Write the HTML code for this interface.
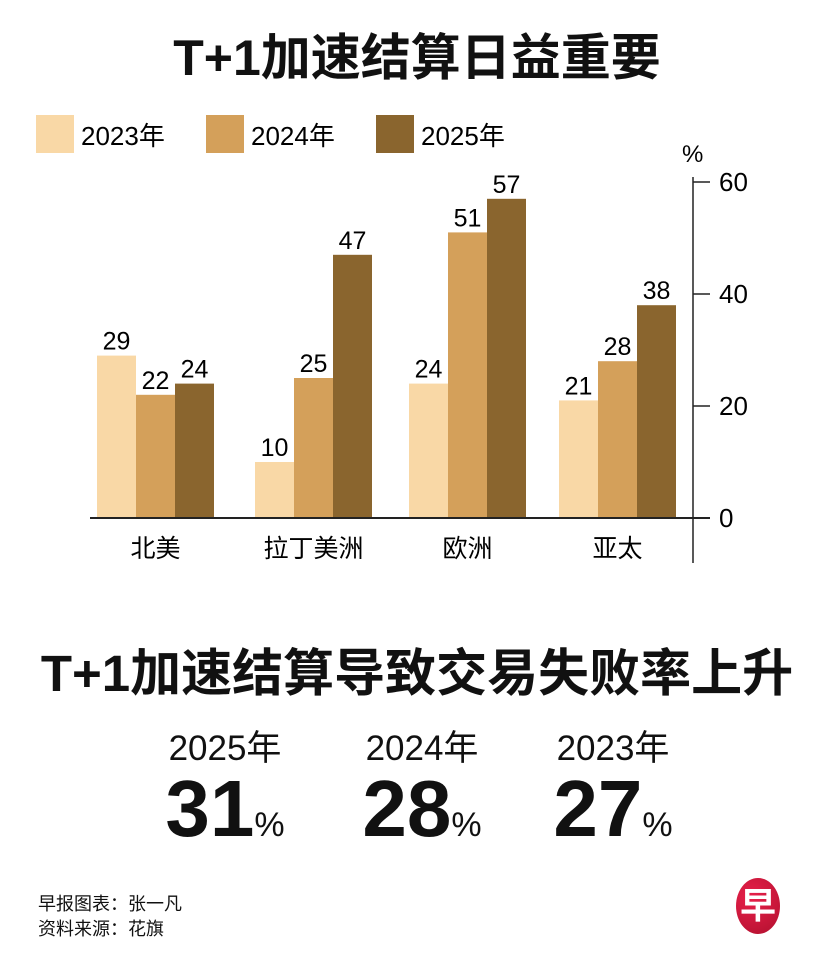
<!DOCTYPE html>
<html><head><meta charset="utf-8"><style>
body{margin:0;width:834px;height:967px;background:#fff;font-family:"Liberation Sans","Noto Sans CJK SC",sans-serif;color:#111;position:relative;overflow:hidden}
.a{position:absolute;white-space:nowrap}
</style></head><body>
<div class="a" style="left:0;width:834px;text-align:center;top:18px;font-size:50px;font-weight:bold">T+1加速结算日益重要</div>
<svg class="a" style="left:0;top:0" width="834" height="600" id="c"></svg>
<div class="a" style="left:0;width:834px;text-align:center;top:632px;font-size:51px;font-weight:bold">T+1加速结算导致交易失败率上升</div>
<div class="a" style="left:155px;top:720px;text-align:center;width:140px"><div style="font-size:35px">2025年</div><div style="margin-top:-8px"><b style="font-size:80px">31</b><span style="font-size:34px">%</span></div></div>
<div class="a" style="left:352px;top:720px;text-align:center;width:140px"><div style="font-size:35px">2024年</div><div style="margin-top:-8px"><b style="font-size:80px">28</b><span style="font-size:34px">%</span></div></div>
<div class="a" style="left:543px;top:720px;text-align:center;width:140px"><div style="font-size:35px">2023年</div><div style="margin-top:-8px"><b style="font-size:80px">27</b><span style="font-size:34px">%</span></div></div>
<div class="a" style="left:38px;top:892px;font-size:18px;line-height:25px">早报图表：张一凡<br>资料来源：花旗</div>
<div class="a" style="left:736px;top:878px;width:44px;height:56px;border-radius:50%;background:radial-gradient(circle at 35% 35%,#e8204a,#b0102e);color:#fff;font-size:36px;font-weight:bold;text-align:center;line-height:56px">早</div>
<script>
const categories=["北美","拉丁美洲","欧洲","亚太"];
const series=["2023年","2024年","2025年"];
const v2023=[29,10,24,21];
const v2024=[22,25,51,28];
const v2025=[24,47,57,38];
const ticks=[0,20,40,60];
const colors=["#f9d8a6","#d4a05a","#8a652e"];
const svg=document.getElementById('c');const NS="http://www.w3.org/2000/svg";
function y(v){return 518-v*5.6;}
function x(i,s){return 97+i*154+(i>0&&i<3?4:0)+s*39;}
function el(t,a,txt){const e=document.createElementNS(NS,t);for(const k in a)e.setAttribute(k,a[k]);if(txt!==undefined)e.textContent=txt;svg.appendChild(e);return e;}
const vals=[v2023,v2024,v2025];
series.forEach((s,j)=>{
 const r=el('rect',{x:36+j*170,y:115,width:38,height:38,fill:colors[j]});
 
 
 const t=el('text',{x:81+j*170,y:145,'font-size':26},s);
 
 
});
categories.forEach((c,i)=>{
 vals.forEach((arr,s)=>{
  const r=el('rect',{x:x(i,s),y:y(arr[i]),width:39,height:518-y(arr[i]),fill:colors[s]});
  
  
  const t=el('text',{x:x(i,s)+19.5,y:y(arr[i])-6,'font-size':25,'text-anchor':'middle'},arr[i]);
  
  
 });
 const l=el('text',{x:x(i,1)+19.5,y:557,'font-size':25,'text-anchor':'middle'},c);
 
 
});
const b=el('line',{x1:90,x2:710,y1:518,y2:518,stroke:'#222','stroke-width':2});


const ax=el('line',{x1:693,x2:693,y1:177,y2:563,stroke:'#222','stroke-width':1.5});


ticks.forEach(t=>{
 const tl=el('line',{x1:693,x2:710,y1:y(t),y2:y(t),stroke:'#222','stroke-width':1.5});
 
 
 const tx=el('text',{x:719,y:y(t)+9,'font-size':26},t);
 
 
});
const u=el('text',{x:682,y:162,'font-size':24},'%');


</script>
</body></html>
